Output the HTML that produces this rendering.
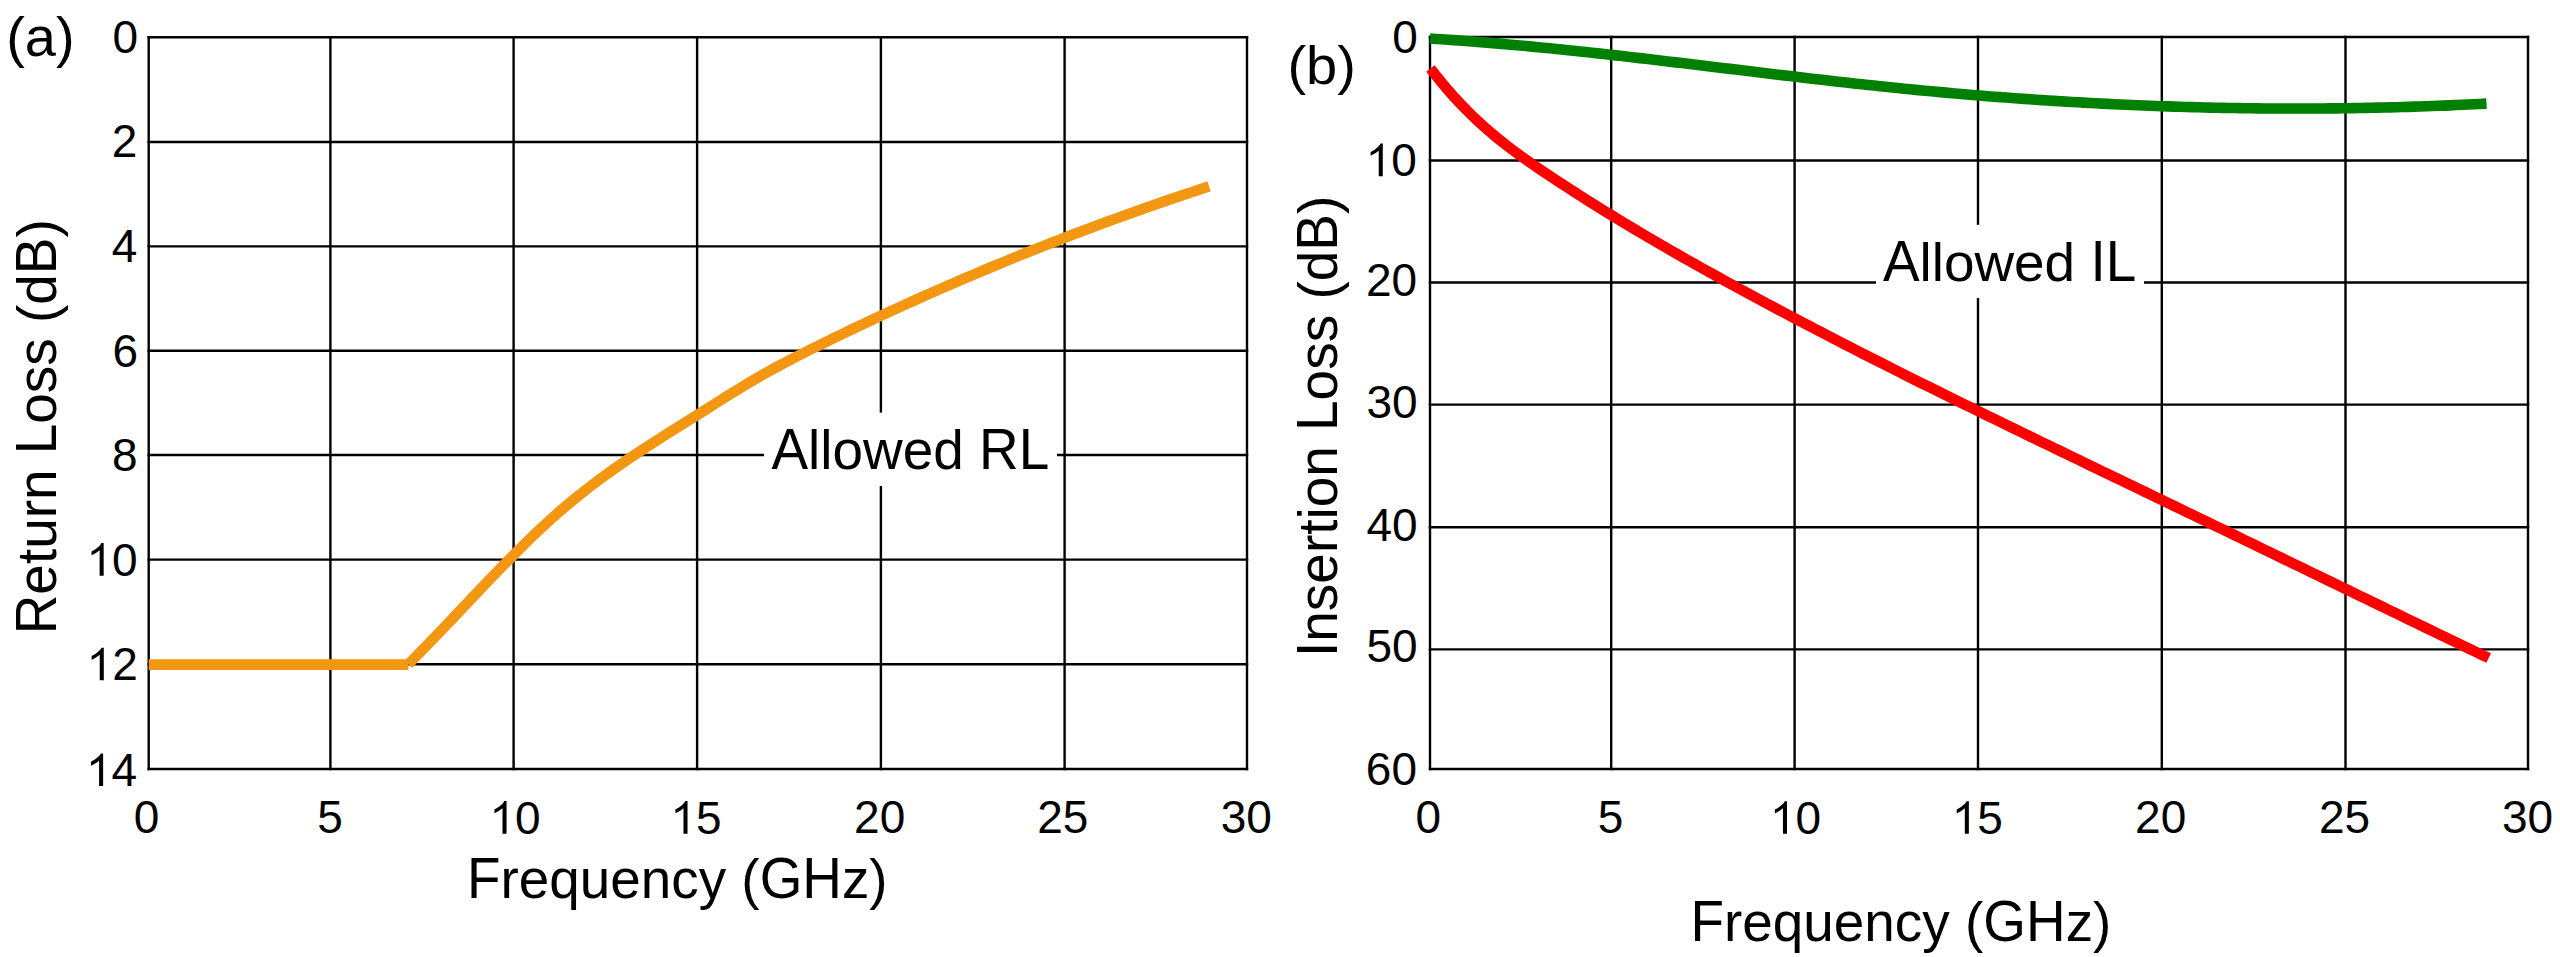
<!DOCTYPE html>
<html><head><meta charset="utf-8"><title>Return Loss and Insertion Loss</title>
<style>html,body{margin:0;padding:0;background:#fff;overflow:hidden}svg{display:block}</style>
</head><body>
<svg width="2560" height="957" viewBox="0 0 2560 957">
<rect x="0" y="0" width="2560" height="957" fill="#fff"/>
<g stroke="#000" stroke-width="2.40" stroke-linecap="butt"><line x1="148.7" y1="36.0" x2="148.7" y2="770.2"/><line x1="330.4" y1="36.0" x2="330.4" y2="770.2"/><line x1="513.6" y1="36.0" x2="513.6" y2="770.2"/><line x1="697.1" y1="36.0" x2="697.1" y2="770.2"/><line x1="880.9" y1="36.0" x2="880.9" y2="770.2"/><line x1="1064.6" y1="36.0" x2="1064.6" y2="770.2"/><line x1="1247.0" y1="36.0" x2="1247.0" y2="770.2"/><line x1="147.5" y1="37.2" x2="1248.2" y2="37.2"/><line x1="147.5" y1="142.0" x2="1248.2" y2="142.0"/><line x1="147.5" y1="246.4" x2="1248.2" y2="246.4"/><line x1="147.5" y1="350.8" x2="1248.2" y2="350.8"/><line x1="147.5" y1="455.0" x2="1248.2" y2="455.0"/><line x1="147.5" y1="559.6" x2="1248.2" y2="559.6"/><line x1="147.5" y1="664.3" x2="1248.2" y2="664.3"/><line x1="147.5" y1="769.0" x2="1248.2" y2="769.0"/><line x1="1430.0" y1="35.8" x2="1430.0" y2="770.2"/><line x1="1611.2" y1="35.8" x2="1611.2" y2="770.2"/><line x1="1794.6" y1="35.8" x2="1794.6" y2="770.2"/><line x1="1978.0" y1="35.8" x2="1978.0" y2="770.2"/><line x1="2161.8" y1="35.8" x2="2161.8" y2="770.2"/><line x1="2345.5" y1="35.8" x2="2345.5" y2="770.2"/><line x1="2528.0" y1="35.8" x2="2528.0" y2="770.2"/><line x1="1428.8" y1="37.0" x2="2529.2" y2="37.0"/><line x1="1428.8" y1="160.5" x2="2529.2" y2="160.5"/><line x1="1428.8" y1="282.5" x2="2529.2" y2="282.5"/><line x1="1428.8" y1="404.6" x2="2529.2" y2="404.6"/><line x1="1428.8" y1="527.2" x2="2529.2" y2="527.2"/><line x1="1428.8" y1="649.4" x2="2529.2" y2="649.4"/><line x1="1428.8" y1="769.0" x2="2529.2" y2="769.0"/></g>
<rect x="764" y="412.6" width="293" height="73.4" fill="#fff"/>
<rect x="1876" y="224.8" width="268" height="73.2" fill="#fff"/>
<line x1="148.7" y1="664.6" x2="408.4" y2="664.6" stroke="#F39712" stroke-width="10.6"/>
<path d="M408.4,664.14 L414.4,658.12 L420.4,652.03 L426.4,645.88 L432.4,639.67 L438.4,633.42 L444.4,627.13 L450.4,620.82 L456.4,614.49 L462.4,608.15 L468.4,601.81 L474.4,595.48 L480.4,589.16 L486.4,582.88 L492.4,576.63 L498.4,570.42 L504.4,564.26 L510.4,558.16 L516.4,552.14 L522.4,546.18 L528.4,540.32 L534.4,534.55 L540.4,528.87 L546.4,523.31 L552.4,517.87 L558.4,512.56 L564.4,507.38 L570.4,502.33 L576.4,497.41 L582.4,492.61 L588.4,487.93 L594.4,483.35 L600.4,478.87 L606.4,474.48 L612.4,470.18 L618.4,465.96 L624.4,461.82 L630.4,457.74 L636.4,453.73 L642.4,449.77 L648.4,445.85 L654.4,441.98 L660.4,438.15 L666.4,434.34 L672.4,430.55 L678.4,426.78 L684.4,423.02 L690.4,419.25 L696.4,415.49 L702.4,411.71 L708.4,407.92 L714.4,404.14 L720.4,400.36 L726.4,396.59 L732.4,392.86 L738.4,389.16 L744.4,385.51 L750.4,381.92 L756.4,378.39 L762.4,374.93 L768.4,371.56 L774.4,368.26 L780.4,365.02 L786.4,361.85 L792.4,358.72 L798.4,355.65 L804.4,352.61 L810.4,349.60 L816.4,346.63 L822.4,343.67 L828.4,340.73 L834.4,337.81 L840.4,334.90 L846.4,332.02 L852.4,329.14 L858.4,326.29 L864.4,323.45 L870.4,320.62 L876.4,317.81 L882.4,315.02 L888.4,312.25 L894.4,309.49 L900.4,306.74 L906.4,304.02 L912.4,301.31 L918.4,298.61 L924.4,295.93 L930.4,293.27 L936.4,290.62 L942.4,287.99 L948.4,285.37 L954.4,282.77 L960.4,280.19 L966.4,277.62 L972.4,275.07 L978.4,272.53 L984.4,270.01 L990.4,267.50 L996.4,265.01 L1002.4,262.53 L1008.4,260.07 L1014.4,257.63 L1020.4,255.20 L1026.4,252.78 L1032.4,250.38 L1038.4,248.00 L1044.4,245.63 L1050.4,243.28 L1056.4,240.94 L1062.4,238.62 L1068.4,236.31 L1074.4,234.01 L1080.4,231.73 L1086.4,229.47 L1092.4,227.22 L1098.4,224.99 L1104.4,222.77 L1110.4,220.56 L1116.4,218.37 L1122.4,216.20 L1128.4,214.03 L1134.4,211.89 L1140.4,209.76 L1146.4,207.64 L1152.4,205.53 L1158.4,203.45 L1164.4,201.37 L1170.4,199.31 L1176.4,197.26 L1182.4,195.23 L1188.4,193.21 L1194.4,191.21 L1200.4,189.22 L1206.4,187.25 L1209.1,186.36" fill="none" stroke="#F39712" stroke-width="10.6" stroke-linejoin="round"/>
<path d="M1430.0,38.58 L1436.0,38.95 L1442.0,39.33 L1448.0,39.73 L1454.0,40.14 L1460.0,40.56 L1466.0,41.00 L1472.0,41.45 L1478.0,41.92 L1484.0,42.39 L1490.0,42.88 L1496.0,43.38 L1502.0,43.89 L1508.0,44.41 L1514.0,44.94 L1520.0,45.49 L1526.0,46.04 L1532.0,46.61 L1538.0,47.18 L1544.0,47.76 L1550.0,48.35 L1556.0,48.96 L1562.0,49.57 L1568.0,50.18 L1574.0,50.81 L1580.0,51.44 L1586.0,52.08 L1592.0,52.73 L1598.0,53.38 L1604.0,54.05 L1610.0,54.71 L1616.0,55.38 L1622.0,56.06 L1628.0,56.75 L1634.0,57.44 L1640.0,58.13 L1646.0,58.83 L1652.0,59.53 L1658.0,60.23 L1664.0,60.94 L1670.0,61.65 L1676.0,62.37 L1682.0,63.08 L1688.0,63.80 L1694.0,64.53 L1700.0,65.25 L1706.0,65.97 L1712.0,66.70 L1718.0,67.42 L1724.0,68.15 L1730.0,68.88 L1736.0,69.60 L1742.0,70.33 L1748.0,71.06 L1754.0,71.78 L1760.0,72.50 L1766.0,73.22 L1772.0,73.94 L1778.0,74.66 L1784.0,75.38 L1790.0,76.09 L1796.0,76.80 L1802.0,77.50 L1808.0,78.20 L1814.0,78.90 L1820.0,79.60 L1826.0,80.28 L1832.0,80.97 L1838.0,81.65 L1844.0,82.32 L1850.0,82.99 L1856.0,83.65 L1862.0,84.30 L1868.0,84.95 L1874.0,85.59 L1880.0,86.23 L1886.0,86.85 L1892.0,87.47 L1898.0,88.08 L1904.0,88.68 L1910.0,89.28 L1916.0,89.86 L1922.0,90.44 L1928.0,91.00 L1934.0,91.56 L1940.0,92.11 L1946.0,92.65 L1952.0,93.18 L1958.0,93.71 L1964.0,94.22 L1970.0,94.73 L1976.0,95.23 L1982.0,95.72 L1988.0,96.20 L1994.0,96.67 L2000.0,97.13 L2006.0,97.58 L2012.0,98.03 L2018.0,98.46 L2024.0,98.89 L2030.0,99.30 L2036.0,99.71 L2042.0,100.11 L2048.0,100.50 L2054.0,100.88 L2060.0,101.26 L2066.0,101.62 L2072.0,101.98 L2078.0,102.32 L2084.0,102.66 L2090.0,102.98 L2096.0,103.30 L2102.0,103.61 L2108.0,103.91 L2114.0,104.20 L2120.0,104.48 L2126.0,104.75 L2132.0,105.02 L2138.0,105.27 L2144.0,105.52 L2150.0,105.75 L2156.0,105.98 L2162.0,106.19 L2168.0,106.40 L2174.0,106.60 L2180.0,106.79 L2186.0,106.97 L2192.0,107.14 L2198.0,107.30 L2204.0,107.45 L2210.0,107.59 L2216.0,107.72 L2222.0,107.85 L2228.0,107.96 L2234.0,108.06 L2240.0,108.16 L2246.0,108.24 L2252.0,108.32 L2258.0,108.38 L2264.0,108.44 L2270.0,108.48 L2276.0,108.52 L2282.0,108.55 L2288.0,108.57 L2294.0,108.57 L2300.0,108.57 L2306.0,108.56 L2312.0,108.54 L2318.0,108.51 L2324.0,108.47 L2330.0,108.42 L2336.0,108.36 L2342.0,108.29 L2348.0,108.21 L2354.0,108.12 L2360.0,108.02 L2366.0,107.91 L2372.0,107.79 L2378.0,107.66 L2384.0,107.52 L2390.0,107.37 L2396.0,107.21 L2402.0,107.04 L2408.0,106.86 L2414.0,106.67 L2420.0,106.47 L2426.0,106.26 L2432.0,106.05 L2438.0,105.82 L2444.0,105.58 L2450.0,105.33 L2456.0,105.07 L2462.0,104.80 L2468.0,104.52 L2474.0,104.23 L2480.0,103.93 L2486.0,103.62 L2486.5,103.59" fill="none" stroke="#008000" stroke-width="10.6" stroke-linejoin="round"/>
<path d="M1430.5,68.40 L1436.5,76.16 L1442.5,83.56 L1448.5,90.64 L1454.5,97.40 L1460.5,103.86 L1466.5,110.05 L1472.5,115.96 L1478.5,121.63 L1484.5,127.07 L1490.5,132.29 L1496.5,137.32 L1502.5,142.16 L1508.5,146.84 L1514.5,151.38 L1520.5,155.78 L1526.5,160.06 L1532.5,164.25 L1538.5,168.36 L1544.5,172.40 L1550.5,176.40 L1556.5,180.35 L1562.5,184.28 L1568.5,188.18 L1574.5,192.05 L1580.5,195.88 L1586.5,199.69 L1592.5,203.46 L1598.5,207.21 L1604.5,210.94 L1610.5,214.63 L1616.5,218.30 L1622.5,221.94 L1628.5,225.56 L1634.5,229.15 L1640.5,232.72 L1646.5,236.27 L1652.5,239.79 L1658.5,243.30 L1664.5,246.78 L1670.5,250.24 L1676.5,253.68 L1682.5,257.10 L1688.5,260.50 L1694.5,263.89 L1700.5,267.25 L1706.5,270.60 L1712.5,273.94 L1718.5,277.26 L1724.5,280.56 L1730.5,283.85 L1736.5,287.13 L1742.5,290.39 L1748.5,293.64 L1754.5,296.88 L1760.5,300.11 L1766.5,303.32 L1772.5,306.53 L1778.5,309.72 L1784.5,312.91 L1790.5,316.08 L1796.5,319.24 L1802.5,322.40 L1808.5,325.54 L1814.5,328.67 L1820.5,331.80 L1826.5,334.91 L1832.5,338.02 L1838.5,341.12 L1844.5,344.20 L1850.5,347.28 L1856.5,350.35 L1862.5,353.42 L1868.5,356.47 L1874.5,359.52 L1880.5,362.56 L1886.5,365.59 L1892.5,368.61 L1898.5,371.63 L1904.5,374.64 L1910.5,377.65 L1916.5,380.65 L1922.5,383.64 L1928.5,386.62 L1934.5,389.60 L1940.5,392.58 L1946.5,395.54 L1952.5,398.51 L1958.5,401.46 L1964.5,404.42 L1970.5,407.36 L1976.5,410.31 L1982.5,413.25 L1988.5,416.18 L1994.5,419.11 L2000.5,422.04 L2006.5,424.96 L2012.5,427.88 L2018.5,430.80 L2024.5,433.71 L2030.5,436.62 L2036.5,439.53 L2042.5,442.44 L2048.5,445.34 L2054.5,448.24 L2060.5,451.14 L2066.5,454.04 L2072.5,456.93 L2078.5,459.83 L2084.5,462.72 L2090.5,465.61 L2096.5,468.50 L2102.5,471.40 L2108.5,474.29 L2114.5,477.18 L2120.5,480.07 L2126.5,482.96 L2132.5,485.85 L2138.5,488.74 L2144.5,491.63 L2150.5,494.52 L2156.5,497.42 L2162.5,500.31 L2168.5,503.21 L2174.5,506.11 L2180.5,509.00 L2186.5,511.90 L2192.5,514.80 L2198.5,517.70 L2204.5,520.60 L2210.5,523.51 L2216.5,526.41 L2222.5,529.31 L2228.5,532.22 L2234.5,535.12 L2240.5,538.02 L2246.5,540.93 L2252.5,543.84 L2258.5,546.74 L2264.5,549.65 L2270.5,552.56 L2276.5,555.46 L2282.5,558.37 L2288.5,561.28 L2294.5,564.18 L2300.5,567.09 L2306.5,570.00 L2312.5,572.91 L2318.5,575.82 L2324.5,578.72 L2330.5,581.63 L2336.5,584.54 L2342.5,587.45 L2348.5,590.35 L2354.5,593.26 L2360.5,596.17 L2366.5,599.07 L2372.5,601.98 L2378.5,604.89 L2384.5,607.79 L2390.5,610.69 L2396.5,613.60 L2402.5,616.50 L2408.5,619.41 L2414.5,622.31 L2420.5,625.21 L2426.5,628.11 L2432.5,631.01 L2438.5,633.91 L2444.5,636.81 L2450.5,639.70 L2456.5,642.60 L2462.5,645.50 L2468.5,648.39 L2474.5,651.28 L2480.5,654.18 L2486.5,657.07 L2488.6,658.08" fill="none" stroke="#FF0000" stroke-width="10.6" stroke-linejoin="round"/>
<g font-family="Liberation Sans, sans-serif" fill="#000"><text transform="translate(112.51,52.83) scale(1.0001,1.0001)" font-size="46.0">0</text><text transform="translate(111.83,157.26) scale(1.0001,1.0001)" font-size="46.0">2</text><text transform="translate(111.66,261.82) scale(1.0001,1.0001)" font-size="46.0">4</text><text transform="translate(112.54,366.58) scale(1.0001,1.0001)" font-size="46.0">6</text><text transform="translate(112.02,471.33) scale(1.0001,1.0001)" font-size="46.0">8</text><text transform="translate(86.53,575.64) scale(1.0001,1.0001)" font-size="46.0">&#x2007;0</text><path transform="translate(86.53,575.64) scale(0.02246,-0.02246)" d="M763,0 L583,0 L583,1130 Q450,1010 223,905 L223,1075 Q420,1170 560,1310 Q640,1390 660,1450 L763,1450 Z"/><text transform="translate(86.65,680.21) scale(1.0001,1.0001)" font-size="46.0">&#x2007;2</text><path transform="translate(86.65,680.21) scale(0.02246,-0.02246)" d="M763,0 L583,0 L583,1130 Q450,1010 223,905 L223,1075 Q420,1170 560,1310 Q640,1390 660,1450 L763,1450 Z"/><text transform="translate(85.98,786.01) scale(1.0001,1.0001)" font-size="46.0">&#x2007;4</text><path transform="translate(85.98,786.01) scale(0.02246,-0.02246)" d="M763,0 L583,0 L583,1130 Q450,1010 223,905 L223,1075 Q420,1170 560,1310 Q640,1390 660,1450 L763,1450 Z"/><text transform="translate(1392.21,52.93) scale(1.0001,1.0001)" font-size="46.0">0</text><text transform="translate(1365.63,176.14) scale(1.0001,1.0001)" font-size="46.0">&#x2007;0</text><path transform="translate(1365.63,176.14) scale(0.02246,-0.02246)" d="M763,0 L583,0 L583,1130 Q450,1010 223,905 L223,1075 Q420,1170 560,1310 Q640,1390 660,1450 L763,1450 Z"/><text transform="translate(1366.03,296.18) scale(1.0001,1.0001)" font-size="46.0">20</text><text transform="translate(1366.43,418.48) scale(1.0001,1.0001)" font-size="46.0">30</text><text transform="translate(1366.43,540.53) scale(1.0001,1.0001)" font-size="46.0">40</text><text transform="translate(1366.43,662.03) scale(1.0001,1.0001)" font-size="46.0">50</text><text transform="translate(1365.83,784.63) scale(1.0001,1.0001)" font-size="46.0">60</text><text transform="translate(133.76,833.23) scale(1.0001,1.0001)" font-size="46.0">0</text><text transform="translate(317.35,833.00) scale(1.0001,1.0001)" font-size="46.0">5</text><text transform="translate(489.41,833.64) scale(1.0001,1.0001)" font-size="46.0">&#x2007;0</text><path transform="translate(489.41,833.64) scale(0.02246,-0.02246)" d="M763,0 L583,0 L583,1130 Q450,1010 223,905 L223,1075 Q420,1170 560,1310 Q640,1390 660,1450 L763,1450 Z"/><text transform="translate(670.38,833.64) scale(1.0001,1.0001)" font-size="46.0">&#x2007;5</text><path transform="translate(670.38,833.64) scale(0.02246,-0.02246)" d="M763,0 L583,0 L583,1130 Q450,1010 223,905 L223,1075 Q420,1170 560,1310 Q640,1390 660,1450 L763,1450 Z"/><text transform="translate(854.06,833.23) scale(1.0001,1.0001)" font-size="46.0">20</text><text transform="translate(1037.13,833.23) scale(1.0001,1.0001)" font-size="46.0">25</text><text transform="translate(1220.64,833.23) scale(1.0001,1.0001)" font-size="46.0">30</text><text transform="translate(1415.56,833.33) scale(1.0001,1.0001)" font-size="46.0">0</text><text transform="translate(1597.80,833.10) scale(1.0001,1.0001)" font-size="46.0">5</text><text transform="translate(1769.86,833.74) scale(1.0001,1.0001)" font-size="46.0">&#x2007;0</text><path transform="translate(1769.86,833.74) scale(0.02246,-0.02246)" d="M763,0 L583,0 L583,1130 Q450,1010 223,905 L223,1075 Q420,1170 560,1310 Q640,1390 660,1450 L763,1450 Z"/><text transform="translate(1951.73,833.74) scale(1.0001,1.0001)" font-size="46.0">&#x2007;5</text><path transform="translate(1951.73,833.74) scale(0.02246,-0.02246)" d="M763,0 L583,0 L583,1130 Q450,1010 223,905 L223,1075 Q420,1170 560,1310 Q640,1390 660,1450 L763,1450 Z"/><text transform="translate(2135.06,833.33) scale(1.0001,1.0001)" font-size="46.0">20</text><text transform="translate(2318.93,833.33) scale(1.0001,1.0001)" font-size="46.0">25</text><text transform="translate(2501.94,833.33) scale(1.0001,1.0001)" font-size="46.0">30</text><g transform="translate(467.00,897.55) scale(0.9972,1.0033)"><text transform="translate(0.000,0) scale(1,1.0420)" font-size="55.0">F</text><text x="33.596" font-size="55.0">requency (</text><text transform="translate(293.450,0) scale(1,1.0420)" font-size="55.0">GH</text><text x="375.950" font-size="55.0">z)</text></g><g transform="translate(1690.40,941.25) scale(0.9982,1.0033)"><text transform="translate(0.000,0) scale(1,1.0420)" font-size="55.0">F</text><text x="33.596" font-size="55.0">requency (</text><text transform="translate(293.450,0) scale(1,1.0420)" font-size="55.0">GH</text><text x="375.950" font-size="55.0">z)</text></g><g transform="translate(56.37,634.31) rotate(-90) scale(0.9985,0.9953)"><text transform="translate(0.000,0) scale(1,1.0420)" font-size="55.0">R</text><text x="39.719" font-size="55.0">eturn </text><text transform="translate(180.361,0) scale(1,1.0420)" font-size="55.0">L</text><text x="210.950" font-size="55.0">oss (d</text><text transform="translate(360.723,0) scale(1,1.0420)" font-size="55.0">B</text><text x="397.407" font-size="55.0">)</text></g><g transform="translate(1337.16,656.97) rotate(-90) scale(0.9991,1.0051)"><text transform="translate(0.000,0) scale(1,1.0420)" font-size="55.0">I</text><text x="15.281" font-size="55.0">nsertion </text><text transform="translate(226.230,0) scale(1,1.0420)" font-size="55.0">L</text><text x="256.819" font-size="55.0">oss (d</text><text transform="translate(406.592,0) scale(1,1.0420)" font-size="55.0">B</text><text x="443.276" font-size="55.0">)</text></g><g transform="translate(771.49,469.16) scale(0.9987,1.0077)"><text transform="translate(0.000,0) scale(1,1.0420)" font-size="55.0">A</text><text x="36.685" font-size="55.0">llowed </text><text transform="translate(207.888,0) scale(1,1.0420)" font-size="55.0">RL</text></g><g transform="translate(1882.99,281.37) scale(0.9979,0.9903)"><text transform="translate(0.000,0) scale(1,1.0420)" font-size="55.0">A</text><text x="36.685" font-size="55.0">llowed </text><text transform="translate(207.888,0) scale(1,1.0420)" font-size="55.0">IL</text></g><g transform="translate(6.13,56.28) scale(1.0182,1.0031)"><text x="0.000" font-size="55.0">(a)</text></g><g transform="translate(1287.43,84.16) scale(1.0182,0.9875)"><text x="0.000" font-size="55.0">(b)</text></g></g>
</svg>
</body></html>
